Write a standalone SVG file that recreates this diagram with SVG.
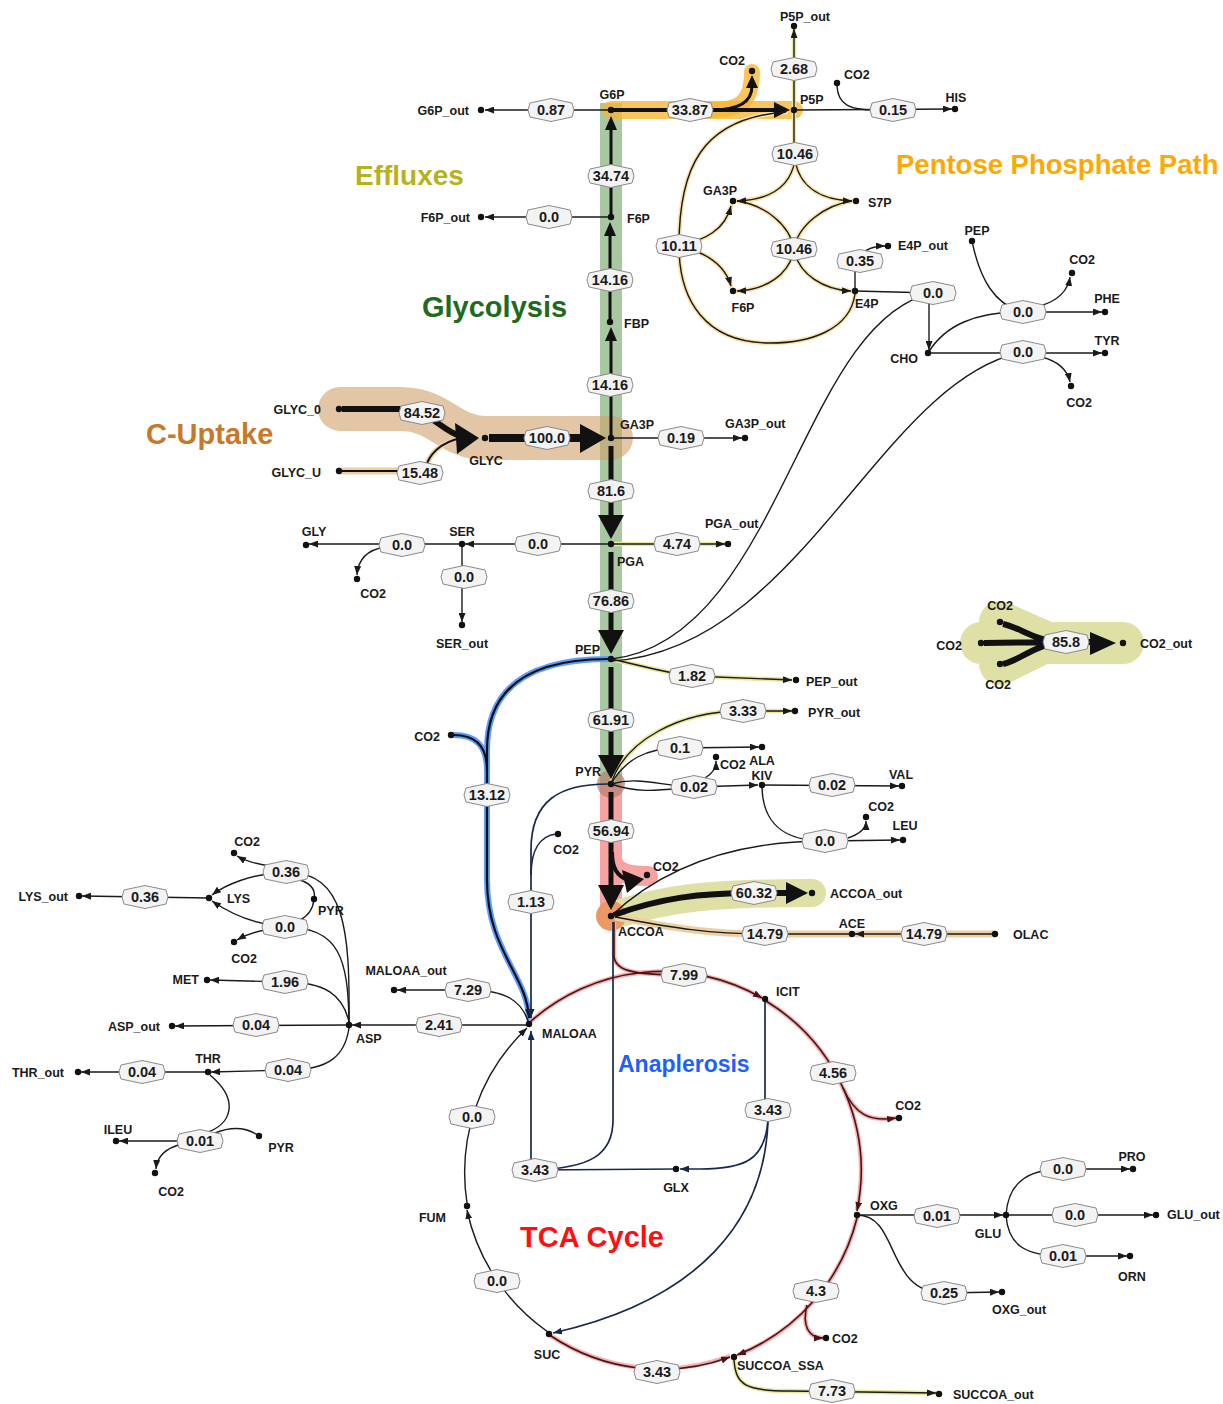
<svg xmlns="http://www.w3.org/2000/svg" width="1223" height="1404" viewBox="0 0 1223 1404">
<defs>
<marker id="ar" markerUnits="userSpaceOnUse" markerWidth="9" markerHeight="7" refX="9" refY="3.5" orient="auto"><path d="M0,0 L9,3.5 L0,7 z" fill="#1a1a1a"/></marker>
<marker id="arn" markerUnits="userSpaceOnUse" markerWidth="9" markerHeight="7" refX="9" refY="3.5" orient="auto"><path d="M0,0 L9,3.5 L0,7 z" fill="#17284f"/></marker>
<marker id="art" markerUnits="userSpaceOnUse" markerWidth="9" markerHeight="7" refX="9" refY="3.5" orient="auto"><path d="M0,0 L9,3.5 L0,7 z" fill="#4a1414"/></marker>
<polygon id="hx" points="-23,0 -21,-7 0,-11.5 21,-7 23,0 21,7 0,11.5 -21,7"/>
</defs>
<style>
.e{fill:none;stroke:#1a1a1a;stroke-width:1.4}
.nv{fill:none;stroke:#17284f;stroke-width:1.7}
.tc{fill:none;stroke:#4a1414;stroke-width:1.6}
.a{marker-end:url(#ar)}
.an{marker-end:url(#arn)}
.at{marker-end:url(#art)}
.hy{fill:none;stroke:#f8e3a8;stroke-width:4.5;stroke-linecap:round}
.hp{fill:none;stroke:#f7b0b0;stroke-width:4.5}
.hb{fill:none;stroke:#5d9bff;stroke-width:6;stroke-linecap:round}
.ho{fill:none;stroke:#e9e79e;stroke-width:4.5}
.ht{fill:none;stroke:#ecd0a4;stroke-width:7}
.k{fill:#111}
.n circle{fill:#111}
.n text{font-family:"Liberation Sans",Arial,sans-serif;font-weight:bold;font-size:12.5px;fill:#1a1a1a}
.fl use{fill:#f3f3f3;stroke:#8a8a8a;stroke-width:1}
.fl text{font-family:"Liberation Sans",Arial,sans-serif;font-weight:bold;font-size:14.5px;fill:#1a1a1a;text-anchor:middle}
.ttl{font-family:"Liberation Sans",Arial,sans-serif;font-weight:bold}
.m{text-anchor:middle}
.r{text-anchor:end}
</style>
<rect width="1223" height="1404" fill="#ffffff"/>

<g id="highlights">
<rect x="600" y="103" width="22" height="684" fill="#a9c8a2"/>
<path d="M611,110 H794" fill="none" stroke="#f7b531" stroke-opacity="0.78" stroke-width="18" stroke-linecap="round"/>
<path d="M712,110 C742,110 752,100 752,72" fill="none" stroke="#f7b531" stroke-opacity="0.78" stroke-width="16" stroke-linecap="round"/>
<path d="M340,409 H400 C440,409 450,438 485,438 H611" fill="none" stroke="#cfa06a" stroke-opacity="0.6" stroke-width="44" stroke-linecap="round" stroke-linejoin="round"/>
<path d="M339,471 H420" class="ht"/>
<path d="M425,470 C428,455 440,442 462,438" fill="none" stroke="#ecd0a4" stroke-width="5"/>
<path d="M611,786 V916" fill="none" stroke="#f8a3a3" stroke-width="22"/>
<path d="M611,852 C611,872 625,876 648,876" fill="none" stroke="#f8a3a3" stroke-width="20" stroke-linecap="round"/>
<path d="M611,916 C660,900 700,893 812,893" fill="none" stroke="#dfe0a6" stroke-width="28" stroke-linecap="round"/>
<circle cx="611" cy="784" r="14" fill="#b5806e" fill-opacity="0.7"/>
<circle cx="611" cy="916" r="15" fill="#eb8c55" fill-opacity="0.85"/>
<path d="M1000,622 L1045,642 M981,643 H1123 M1000,664 L1045,642" fill="none" stroke="#dfe0a6" stroke-width="42" stroke-linecap="round" stroke-linejoin="round"/>
<path d="M852,934 L765,934 C700,934 660,925 615,917" class="ht"/>
<path d="M995,934 H855" class="ht"/>
<path d="M608,659 C540,659 487,680 487,750 L487,880 C487,950 527,975 529,1018" class="hb"/>
<path d="M454,735 C475,735 487,745 487,770" class="hb"/>
<path d="M530,1022 A199,199 0 0 1 762,998" class="hp"/>
<path d="M766,1001 A199,199 0 0 1 857,1210" class="hp"/>
<path d="M857,1218 A199,199 0 0 1 738,1355" class="hp"/>
<path d="M551,1336 A199,199 0 0 0 730,1356" class="hp"/>
<path d="M614,922 V955 C614,970 630,975 684,975" class="hp"/>
<path d="M843,1088 C855,1115 870,1122 896,1118" class="hp"/>
<path d="M807,1305 C802,1325 808,1338 823,1338" class="hp"/>
<path d="M734,1360 C736,1385 745,1391 790,1391 L936,1393" class="ho"/>
<path d="M611,544 H725" class="ho"/>
<path d="M611,659 C640,665 660,672 692,676 L792,680" class="ho"/>
<path d="M611,784 C625,740 680,711 743,711 L792,711" class="ho"/>
<path d="M794,110 V29" class="ho"/>
<path d="M794,110 V154 M795,160 C790,190 765,200 737,201 M795,160 C800,190 825,200 852,201" class="hy"/>
<path d="M737,201 C765,205 790,225 794,249 M852,201 C825,205 798,225 794,249 M794,249 C790,275 765,290 737,291 M794,249 C798,275 825,290 851,291" class="hy"/>
<path d="M786,112 C700,118 679,170 679,246 M855,294 C850,330 810,343 770,343 C705,343 679,300 679,246 M679,246 C705,240 725,230 731,206 M679,246 C705,252 725,265 731,286" class="hy"/>
</g>

<g id="connectors">
<path d="M611,110 H485" class="e a"/>
<path d="M611,110 H776" fill="none" stroke="#111" stroke-width="4"/>
<polygon points="774,102 790,110 774,118" class="k"/>
<path d="M712,110 C742,110 752,100 752,86" fill="none" stroke="#111" stroke-width="3"/>
<polygon points="746,88 752,75 758,88" class="k"/>
<path d="M611,217 V128" fill="none" stroke="#111" stroke-width="3"/>
<polygon points="605,130 611,116 617,130" class="k"/>
<path d="M611,217 H485" class="e a"/>
<path d="M610,322 V234" fill="none" stroke="#111" stroke-width="3"/>
<polygon points="604,236 610,222 616,236" class="k"/>
<path d="M611,438 V338" fill="none" stroke="#111" stroke-width="3"/>
<polygon points="605,341 611,327 617,341" class="k"/>
<path d="M611,438 H742" class="e a"/>
<path d="M489,438 H582" fill="none" stroke="#111" stroke-width="8"/>
<polygon points="580,424 606,438 580,453" class="k"/>
<path d="M342,409 H400 C430,409 440,430 460,436" fill="none" stroke="#111" stroke-width="6"/>
<polygon points="455,423 479,438 457,454" class="k"/>
<path d="M339,471 H420" fill="none" stroke="#111" stroke-width="2.2"/>
<path d="M425,470 C428,455 440,442 462,438" fill="none" stroke="#111" stroke-width="2"/>
<path d="M611,446 V517" fill="none" stroke="#111" stroke-width="5"/>
<polygon points="598,515 624,515 611,539" class="k"/>
<path d="M611,544 H725" class="e a"/>
<path d="M611,544 H465" class="e a"/>
<path d="M462,544 H309" class="e a"/>
<path d="M385,547 C366,550 358,560 357,575" class="e a"/>
<path d="M462,544 V622" class="e a"/>
<path d="M611,552 V632" fill="none" stroke="#111" stroke-width="5"/>
<polygon points="598,630 624,630 611,654" class="k"/>
<path d="M611,659 C640,665 660,672 692,676 L792,680" class="e a"/>
<path d="M611,667 V757" fill="none" stroke="#111" stroke-width="5"/>
<polygon points="598,755 624,755 611,779" class="k"/>
<path d="M611,784 C625,740 680,711 743,711 L792,711" class="e a"/>
<path d="M611,784 C625,760 645,748 680,748 L759,747" class="e a"/>
<path d="M611,784 C640,776 660,786 694,787 M611,784 C640,794 660,790 694,787" class="e"/>
<path d="M694,787 L758,785" class="e a"/>
<path d="M705,778 C712,774 716,768 716,761" class="e a"/>
<path d="M762,785 L899,786" class="e a"/>
<path d="M762,785 C762,825 785,841 825,841 M611,916 C660,870 730,841 825,841" class="e"/>
<path d="M825,841 L900,840" class="e a"/>
<path d="M848,838 C860,834 866,828 866,821" class="e a"/>
<path d="M611,792 V887" fill="none" stroke="#111" stroke-width="5"/>
<polygon points="598,885 624,885 611,910" class="k"/>
<path d="M612,852 C612,868 617,876 628,880" fill="none" stroke="#111" stroke-width="4"/>
<polygon points="622,870 644,879 627,893" class="k"/>
<path d="M614,915 C660,898 700,893 754,893 L788,893" fill="none" stroke="#111" stroke-width="6"/>
<polygon points="786,882 808,893 786,904" class="k"/>
<path d="M995,934 H855" class="e a"/>
<path d="M852,934 L765,934 C700,934 660,925 615,917" class="e"/>
<path d="M608,659 C540,659 487,680 487,750 L487,880 C487,950 527,975 529,1018" fill="none" stroke="#111" stroke-width="2.2" marker-end="url(#ar)"/>
<path d="M454,735 C475,735 487,745 487,770" fill="none" stroke="#111" stroke-width="2.2"/>
<path d="M608,784 C560,784 531,800 531,850 L531,1018" class="nv an"/>
<path d="M556,834 C540,836 531,850 531,875" class="nv"/>
<path d="M529,1024 C522,1000 505,990 468,990 L397,990" class="e a"/>
<path d="M529,1025 L352,1025" class="e a"/>
<path d="M765,999 V1112" class="nv"/>
<path d="M768,1120 C765,1160 745,1169 700,1169 L680,1169" class="nv an"/>
<path d="M768,1120 C765,1220 700,1300 553,1333" class="nv an"/>
<path d="M676,1169 L535,1170" class="nv"/>
<path d="M613,922 V1120 C613,1155 590,1168 535,1170" class="nv"/>
<path d="M531,1170 V1031" class="nv an"/>
<path d="M614,922 V955 C614,970 630,975 684,975" class="tc"/>
<path d="M530,1022 A199,199 0 0 1 762,998" class="tc at"/>
<path d="M766,1001 A199,199 0 0 1 857,1211" class="tc at"/>
<path d="M857,1218 A199,199 0 0 1 737,1355" class="tc at"/>
<path d="M551,1336 A199,199 0 0 0 730,1357" class="tc at"/>
<path d="M548,1332 A199,199 0 0 1 467,1210" class="e a" stroke-width="1.2"/>
<path d="M467,1203 A199,199 0 0 1 527,1028" class="e a" stroke-width="1.2"/>
<path d="M843,1088 C855,1115 870,1122 896,1118" class="tc at"/>
<path d="M807,1305 C802,1325 808,1338 823,1338" class="tc at"/>
<path d="M734,1360 C736,1385 745,1391 790,1391 L936,1393" class="e a" stroke-width="1.8"/>
<path d="M857,1215 L1003,1215" class="e a" stroke-width="1.6"/>
<path d="M857,1215 C900,1215 885,1293 944,1293 L999,1292" class="e a"/>
<path d="M1006,1215 C1008,1185 1025,1169 1063,1169 L1130,1169" class="e a"/>
<path d="M1006,1215 L1153,1215" class="e a"/>
<path d="M1006,1215 C1008,1245 1025,1256 1063,1256 L1127,1256" class="e a"/>
<path d="M349,1022 C350,930 345,872 286,872 M314,899 C316,890 312,884 300,880" class="e"/>
<path d="M286,872 C250,874 225,885 212,895" class="e a"/>
<path d="M270,866 C255,864 244,860 237,856" class="e a"/>
<path d="M349,1022 C348,960 340,927 285,927 M314,899 C313,910 308,916 300,920" class="e"/>
<path d="M285,927 C250,924 225,910 212,901" class="e a"/>
<path d="M266,930 C252,932 244,936 237,940" class="e a"/>
<path d="M209,898 L82,896" class="e a"/>
<path d="M349,1022 C343,995 325,982 285,982 L210,980" class="e a"/>
<path d="M349,1025 L175,1026" class="e a"/>
<path d="M349,1028 C345,1055 330,1070 288,1070 L211,1072" class="e a"/>
<path d="M208,1072 L81,1072" class="e a"/>
<path d="M210,1075 C240,1100 232,1125 205,1133 M259,1136 C245,1126 230,1127 215,1133" class="e"/>
<path d="M200,1141 L119,1141" class="e a"/>
<path d="M182,1144 C166,1148 157,1156 156,1169" class="e a"/>
<path d="M794,110 V29" class="e a"/>
<path d="M794,110 L952,109" class="e a"/>
<path d="M837,86 C838,105 850,110 875,110" class="e"/>
<path d="M794,110 V154" class="e" stroke-width="1.8"/>
<path d="M795,160 C790,190 765,200 737,201" class="e a" stroke-width="1.8"/>
<path d="M795,160 C800,190 825,200 852,201" class="e a" stroke-width="1.8"/>
<path d="M737,201 C765,205 790,225 794,249 M852,201 C825,205 798,225 794,249" class="e" stroke-width="1.8"/>
<path d="M794,249 C790,275 765,290 737,291" class="e a" stroke-width="1.8"/>
<path d="M794,249 C798,275 825,290 851,291" class="e a" stroke-width="1.8"/>
<path d="M786,112 C700,118 679,170 679,246 M855,294 C850,330 810,343 770,343 C705,343 679,300 679,246" class="e" stroke-width="1.8"/>
<path d="M679,246 C705,240 725,230 731,206" class="e a" stroke-width="1.8"/>
<path d="M679,246 C705,252 725,265 731,286" class="e a" stroke-width="1.8"/>
<path d="M855,291 V261" class="e"/>
<path d="M857,261 C862,250 872,246 885,246" class="e a"/>
<path d="M855,291 L933,293 M611,659 C780,640 800,320 933,293" class="e"/>
<path d="M929,300 V350" class="e a"/>
<path d="M928,353 C945,325 975,312 1023,312 M972,241 C980,280 995,305 1023,312" class="e"/>
<path d="M1023,312 L1102,312" class="e a"/>
<path d="M1040,306 C1060,300 1068,290 1070,277" class="e a"/>
<path d="M928,353 L1102,353" class="e a"/>
<path d="M611,661 C800,650 880,380 1023,352" class="e"/>
<path d="M1042,357 C1060,362 1068,372 1070,382" class="e a"/>
<path d="M1003,624 C1022,628 1035,642 1066,642 M984,643 L1066,642 M1003,664 C1022,660 1035,643 1066,642 M1066,642 H1092" fill="none" stroke="#111" stroke-width="6"/>
<polygon points="1090,632 1116,643 1090,655" class="k"/>
</g>

<g id="flux-labels" class="fl">
<g><use href="#hx" x="551" y="110"/><text x="551" y="115">0.87</text></g>
<g><use href="#hx" x="690" y="110"/><text x="690" y="115">33.87</text></g>
<g><use href="#hx" x="794" y="69"/><text x="794" y="74">2.68</text></g>
<g><use href="#hx" x="893" y="110"/><text x="893" y="115">0.15</text></g>
<g><use href="#hx" x="795" y="154"/><text x="795" y="159">10.46</text></g>
<g><use href="#hx" x="679" y="246"/><text x="679" y="251">10.11</text></g>
<g><use href="#hx" x="794" y="249"/><text x="794" y="254">10.46</text></g>
<g><use href="#hx" x="860" y="261"/><text x="860" y="266">0.35</text></g>
<g><use href="#hx" x="933" y="293"/><text x="933" y="298">0.0</text></g>
<g><use href="#hx" x="1023" y="312"/><text x="1023" y="317">0.0</text></g>
<g><use href="#hx" x="1023" y="352"/><text x="1023" y="357">0.0</text></g>
<g><use href="#hx" x="611" y="176"/><text x="611" y="181">34.74</text></g>
<g><use href="#hx" x="549" y="217"/><text x="549" y="222">0.0</text></g>
<g><use href="#hx" x="610" y="280"/><text x="610" y="285">14.16</text></g>
<g><use href="#hx" x="610" y="385"/><text x="610" y="390">14.16</text></g>
<g><use href="#hx" x="422" y="413"/><text x="422" y="418">84.52</text></g>
<g><use href="#hx" x="547" y="438"/><text x="547" y="443">100.0</text></g>
<g><use href="#hx" x="420" y="473"/><text x="420" y="478">15.48</text></g>
<g><use href="#hx" x="681" y="438"/><text x="681" y="443">0.19</text></g>
<g><use href="#hx" x="611" y="491"/><text x="611" y="496">81.6</text></g>
<g><use href="#hx" x="677" y="544"/><text x="677" y="549">4.74</text></g>
<g><use href="#hx" x="538" y="544"/><text x="538" y="549">0.0</text></g>
<g><use href="#hx" x="402" y="545"/><text x="402" y="550">0.0</text></g>
<g><use href="#hx" x="464" y="577"/><text x="464" y="582">0.0</text></g>
<g><use href="#hx" x="611" y="601"/><text x="611" y="606">76.86</text></g>
<g><use href="#hx" x="692" y="676"/><text x="692" y="681">1.82</text></g>
<g><use href="#hx" x="611" y="720"/><text x="611" y="725">61.91</text></g>
<g><use href="#hx" x="743" y="711"/><text x="743" y="716">3.33</text></g>
<g><use href="#hx" x="680" y="748"/><text x="680" y="753">0.1</text></g>
<g><use href="#hx" x="694" y="787"/><text x="694" y="792">0.02</text></g>
<g><use href="#hx" x="832" y="785"/><text x="832" y="790">0.02</text></g>
<g><use href="#hx" x="825" y="841"/><text x="825" y="846">0.0</text></g>
<g><use href="#hx" x="611" y="831"/><text x="611" y="836">56.94</text></g>
<g><use href="#hx" x="754" y="893"/><text x="754" y="898">60.32</text></g>
<g><use href="#hx" x="765" y="934"/><text x="765" y="939">14.79</text></g>
<g><use href="#hx" x="924" y="934"/><text x="924" y="939">14.79</text></g>
<g><use href="#hx" x="487" y="795"/><text x="487" y="800">13.12</text></g>
<g><use href="#hx" x="531" y="902"/><text x="531" y="907">1.13</text></g>
<g><use href="#hx" x="468" y="990"/><text x="468" y="995">7.29</text></g>
<g><use href="#hx" x="439" y="1025"/><text x="439" y="1030">2.41</text></g>
<g><use href="#hx" x="684" y="975"/><text x="684" y="980">7.99</text></g>
<g><use href="#hx" x="833" y="1073"/><text x="833" y="1078">4.56</text></g>
<g><use href="#hx" x="768" y="1110"/><text x="768" y="1115">3.43</text></g>
<g><use href="#hx" x="535" y="1170"/><text x="535" y="1175">3.43</text></g>
<g><use href="#hx" x="472" y="1117"/><text x="472" y="1122">0.0</text></g>
<g><use href="#hx" x="497" y="1281"/><text x="497" y="1286">0.0</text></g>
<g><use href="#hx" x="657" y="1372"/><text x="657" y="1377">3.43</text></g>
<g><use href="#hx" x="816" y="1291"/><text x="816" y="1296">4.3</text></g>
<g><use href="#hx" x="832" y="1391"/><text x="832" y="1396">7.73</text></g>
<g><use href="#hx" x="937" y="1216"/><text x="937" y="1221">0.01</text></g>
<g><use href="#hx" x="1063" y="1169"/><text x="1063" y="1174">0.0</text></g>
<g><use href="#hx" x="1075" y="1215"/><text x="1075" y="1220">0.0</text></g>
<g><use href="#hx" x="1063" y="1256"/><text x="1063" y="1261">0.01</text></g>
<g><use href="#hx" x="944" y="1293"/><text x="944" y="1298">0.25</text></g>
<g><use href="#hx" x="286" y="872"/><text x="286" y="877">0.36</text></g>
<g><use href="#hx" x="145" y="897"/><text x="145" y="902">0.36</text></g>
<g><use href="#hx" x="285" y="927"/><text x="285" y="932">0.0</text></g>
<g><use href="#hx" x="285" y="982"/><text x="285" y="987">1.96</text></g>
<g><use href="#hx" x="256" y="1025"/><text x="256" y="1030">0.04</text></g>
<g><use href="#hx" x="288" y="1070"/><text x="288" y="1075">0.04</text></g>
<g><use href="#hx" x="142" y="1072"/><text x="142" y="1077">0.04</text></g>
<g><use href="#hx" x="200" y="1141"/><text x="200" y="1146">0.01</text></g>
<g><use href="#hx" x="1066" y="642"/><text x="1066" y="647">85.8</text></g>
</g>

<g id="nodes">
<g id="G6P_out" class="n"><circle cx="481" cy="110" r="3.2"/><text x="469" y="115" class="r">G6P_out</text></g>
<g id="G6P" class="n"><circle cx="611" cy="110" r="3.2"/><text x="612" y="99" class="m">G6P</text></g>
<g id="F6P_out" class="n"><circle cx="481" cy="217" r="3.2"/><text x="470" y="222" class="r">F6P_out</text></g>
<g id="F6P" class="n"><circle cx="611" cy="217" r="3.2"/><text x="627" y="223">F6P</text></g>
<g id="FBP" class="n"><circle cx="610" cy="322" r="3.2"/><text x="624" y="328">FBP</text></g>
<g id="GA3P" class="n"><circle cx="611" cy="438" r="3.2"/><text x="620" y="429">GA3P</text></g>
<g id="GA3P_out" class="n"><circle cx="745" cy="438" r="3.2"/><text x="725" y="428">GA3P_out</text></g>
<g id="GLYC" class="n"><circle cx="485" cy="438" r="3.2"/><text x="486" y="465" class="m">GLYC</text></g>
<g id="GLYC_0" class="n"><circle cx="339" cy="409" r="3.2"/><text x="321" y="414" class="r">GLYC_0</text></g>
<g id="GLYC_U" class="n"><circle cx="339" cy="471" r="3.2"/><text x="321" y="477" class="r">GLYC_U</text></g>
<g id="PGA" class="n"><circle cx="611" cy="544" r="3.2"/><text x="617" y="566">PGA</text></g>
<g id="PGA_out" class="n"><circle cx="728" cy="544" r="3.2"/><text x="705" y="528">PGA_out</text></g>
<g id="SER" class="n"><circle cx="462" cy="544" r="3.2"/><text x="462" y="536" class="m">SER</text></g>
<g id="GLY" class="n"><circle cx="306" cy="545" r="3.2"/><text x="314" y="536" class="m">GLY</text></g>
<g id="CO2_a" class="n"><circle cx="357" cy="579" r="3.2"/><text x="373" y="598" class="m">CO2</text></g>
<g id="SER_out" class="n"><circle cx="462" cy="625" r="3.2"/><text x="462" y="648" class="m">SER_out</text></g>
<g id="PEP" class="n"><circle cx="611" cy="659" r="3.2"/><text x="600" y="654" class="r">PEP</text></g>
<g id="PEP_out" class="n"><circle cx="796" cy="680" r="3.2"/><text x="806" y="686">PEP_out</text></g>
<g id="PYR_out" class="n"><circle cx="795" cy="711" r="3.2"/><text x="808" y="717">PYR_out</text></g>
<g id="ALA" class="n"><circle cx="762" cy="747" r="3.2"/><text x="762" y="765" class="m">ALA</text></g>
<g id="CO2_b" class="n"><circle cx="716" cy="757" r="3.2"/><text x="720" y="769">CO2</text></g>
<g id="KIV" class="n"><circle cx="762" cy="785" r="3.2"/><text x="762" y="780" class="m">KIV</text></g>
<g id="VAL" class="n"><circle cx="902" cy="786" r="3.2"/><text x="901" y="779" class="m">VAL</text></g>
<g id="CO2_c" class="n"><circle cx="866" cy="817" r="3.2"/><text x="881" y="811" class="m">CO2</text></g>
<g id="LEU" class="n"><circle cx="903" cy="840" r="3.2"/><text x="905" y="830" class="m">LEU</text></g>
<g id="PYR" class="n"><circle cx="611" cy="784" r="3.2"/><text x="601" y="776" class="r">PYR</text></g>
<g id="CO2_d" class="n"><circle cx="647" cy="875" r="3.2"/><text x="653" y="871">CO2</text></g>
<g id="ACCOA_out" class="n"><circle cx="812" cy="893" r="3.2"/><text x="830" y="898">ACCOA_out</text></g>
<g id="ACCOA" class="n"><circle cx="611" cy="916" r="3.2"/><text x="618" y="936">ACCOA</text></g>
<g id="ACE" class="n"><circle cx="852" cy="934" r="3.2"/><text x="852" y="928" class="m">ACE</text></g>
<g id="OLAC" class="n"><circle cx="995" cy="934" r="3.2"/><text x="1013" y="939">OLAC</text></g>
<g id="CO2_e" class="n"><circle cx="451" cy="735" r="3.2"/><text x="440" y="741" class="r">CO2</text></g>
<g id="CO2_f" class="n"><circle cx="558" cy="834" r="3.2"/><text x="566" y="854" class="m">CO2</text></g>
<g id="MALOAA_out" class="n"><circle cx="394" cy="990" r="3.2"/><text x="406" y="975" class="m">MALOAA_out</text></g>
<g id="MALOAA" class="n"><circle cx="529" cy="1024" r="3.2"/><text x="542" y="1038">MALOAA</text></g>
<g id="ASP" class="n"><circle cx="349" cy="1025" r="3.2"/><text x="356" y="1043">ASP</text></g>
<g id="ICIT" class="n"><circle cx="765" cy="999" r="3.2"/><text x="776" y="996">ICIT</text></g>
<g id="CO2_g" class="n"><circle cx="899" cy="1118" r="3.2"/><text x="908" y="1110" class="m">CO2</text></g>
<g id="GLX" class="n"><circle cx="676" cy="1169" r="3.2"/><text x="676" y="1192" class="m">GLX</text></g>
<g id="FUM" class="n"><circle cx="467" cy="1206" r="3.2"/><text x="446" y="1222" class="r">FUM</text></g>
<g id="SUC" class="n"><circle cx="549" cy="1334" r="3.2"/><text x="547" y="1359" class="m">SUC</text></g>
<g id="SUCCOA_SSA" class="n"><circle cx="734" cy="1357" r="3.2"/><text x="737" y="1370">SUCCOA_SSA</text></g>
<g id="CO2_h" class="n"><circle cx="826" cy="1338" r="3.2"/><text x="832" y="1343">CO2</text></g>
<g id="SUCCOA_out" class="n"><circle cx="939" cy="1394" r="3.2"/><text x="953" y="1399">SUCCOA_out</text></g>
<g id="OXG" class="n"><circle cx="857" cy="1215" r="3.2"/><text x="870" y="1210">OXG</text></g>
<g id="GLU" class="n"><circle cx="1006" cy="1215" r="3.2"/><text x="988" y="1238" class="m">GLU</text></g>
<g id="PRO" class="n"><circle cx="1133" cy="1169" r="3.2"/><text x="1132" y="1161" class="m">PRO</text></g>
<g id="GLU_out" class="n"><circle cx="1156" cy="1215" r="3.2"/><text x="1167" y="1219">GLU_out</text></g>
<g id="ORN" class="n"><circle cx="1130" cy="1256" r="3.2"/><text x="1132" y="1281" class="m">ORN</text></g>
<g id="OXG_out" class="n"><circle cx="1002" cy="1292" r="3.2"/><text x="1019" y="1314" class="m">OXG_out</text></g>
<g id="LYS_out" class="n"><circle cx="79" cy="896" r="3.2"/><text x="68" y="901" class="r">LYS_out</text></g>
<g id="LYS" class="n"><circle cx="209" cy="898" r="3.2"/><text x="227" y="903">LYS</text></g>
<g id="CO2_i" class="n"><circle cx="234" cy="853" r="3.2"/><text x="247" y="846" class="m">CO2</text></g>
<g id="PYR_b" class="n"><circle cx="314" cy="899" r="3.2"/><text x="318" y="915">PYR</text></g>
<g id="CO2_j" class="n"><circle cx="234" cy="942" r="3.2"/><text x="244" y="963" class="m">CO2</text></g>
<g id="MET" class="n"><circle cx="207" cy="980" r="3.2"/><text x="199" y="984" class="r">MET</text></g>
<g id="ASP_out" class="n"><circle cx="172" cy="1026" r="3.2"/><text x="160" y="1031" class="r">ASP_out</text></g>
<g id="THR" class="n"><circle cx="208" cy="1072" r="3.2"/><text x="208" y="1063" class="m">THR</text></g>
<g id="THR_out" class="n"><circle cx="78" cy="1072" r="3.2"/><text x="64" y="1077" class="r">THR_out</text></g>
<g id="ILEU" class="n"><circle cx="116" cy="1141" r="3.2"/><text x="118" y="1134" class="m">ILEU</text></g>
<g id="PYR_c" class="n"><circle cx="259" cy="1136" r="3.2"/><text x="281" y="1152" class="m">PYR</text></g>
<g id="CO2_k" class="n"><circle cx="155" cy="1173" r="3.2"/><text x="171" y="1196" class="m">CO2</text></g>
<g id="P5P_out" class="n"><circle cx="794" cy="26" r="3.2"/><text x="805" y="21" class="m">P5P_out</text></g>
<g id="CO2_l" class="n"><circle cx="752" cy="71" r="3.2"/><text x="732" y="65" class="m">CO2</text></g>
<g id="P5P" class="n"><circle cx="794" cy="110" r="3.2"/><text x="800" y="104">P5P</text></g>
<g id="CO2_m" class="n"><circle cx="837" cy="83" r="3.2"/><text x="844" y="79">CO2</text></g>
<g id="HIS" class="n"><circle cx="955" cy="109" r="3.2"/><text x="956" y="102" class="m">HIS</text></g>
<g id="GA3P_b" class="n"><circle cx="733" cy="201" r="3.2"/><text x="720" y="195" class="m">GA3P</text></g>
<g id="S7P" class="n"><circle cx="856" cy="201" r="3.2"/><text x="868" y="207">S7P</text></g>
<g id="F6P_b" class="n"><circle cx="733" cy="291" r="3.2"/><text x="743" y="312" class="m">F6P</text></g>
<g id="E4P" class="n"><circle cx="855" cy="291" r="3.2"/><text x="855" y="308">E4P</text></g>
<g id="E4P_out" class="n"><circle cx="888" cy="246" r="3.2"/><text x="898" y="250">E4P_out</text></g>
<g id="PEP_b" class="n"><circle cx="972" cy="241" r="3.2"/><text x="977" y="235" class="m">PEP</text></g>
<g id="CO2_n" class="n"><circle cx="1072" cy="273" r="3.2"/><text x="1082" y="264" class="m">CO2</text></g>
<g id="PHE" class="n"><circle cx="1105" cy="312" r="3.2"/><text x="1107" y="303" class="m">PHE</text></g>
<g id="TYR" class="n"><circle cx="1105" cy="353" r="3.2"/><text x="1107" y="345" class="m">TYR</text></g>
<g id="CHO" class="n"><circle cx="928" cy="353" r="3.2"/><text x="918" y="363" class="r">CHO</text></g>
<g id="CO2_o" class="n"><circle cx="1071" cy="386" r="3.2"/><text x="1079" y="407" class="m">CO2</text></g>
<g id="CO2_p" class="n"><circle cx="1000" cy="622" r="3.2"/><text x="1000" y="610" class="m">CO2</text></g>
<g id="CO2_q" class="n"><circle cx="981" cy="643" r="3.2"/><text x="962" y="650" class="r">CO2</text></g>
<g id="CO2_r" class="n"><circle cx="1000" cy="664" r="3.2"/><text x="998" y="689" class="m">CO2</text></g>
<g id="CO2_out" class="n"><circle cx="1123" cy="643" r="3.2"/><text x="1140" y="648">CO2_out</text></g>
</g>

<g id="titles" class="ttl">
<text x="355" y="185" font-size="28" fill="#b5b21e">Effluxes</text>
<text x="896" y="174" font-size="27.5" fill="#ffa800">Pentose Phosphate Path</text>
<text x="422" y="317" font-size="29" fill="#1e6b1e">Glycolysis</text>
<text x="146" y="444" font-size="29" fill="#c8782a">C-Uptake</text>
<text x="618" y="1072" font-size="23" fill="#1f5fff">Anaplerosis</text>
<text x="520" y="1247" font-size="29" fill="#ff1010">TCA Cycle</text>
</g>
</svg>
